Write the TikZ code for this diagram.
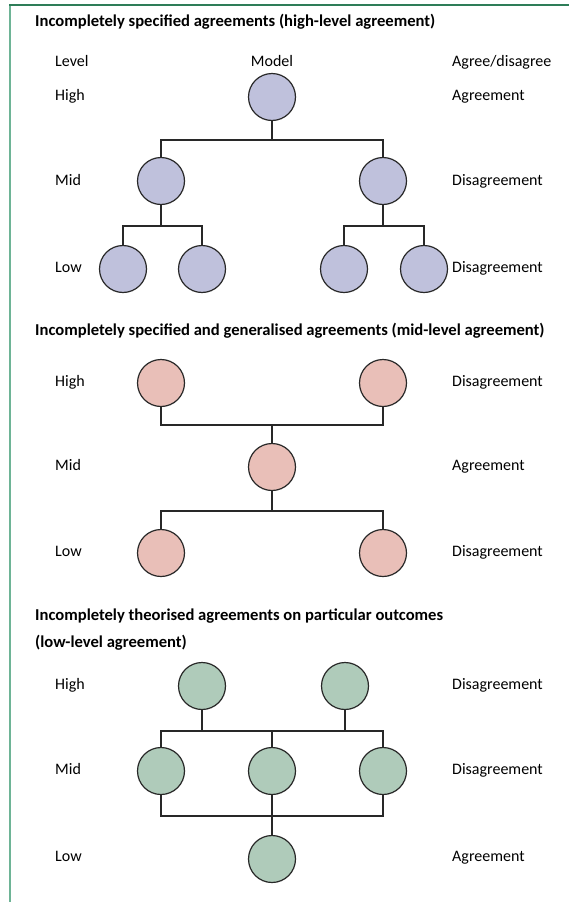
\documentclass[tikz,border=0pt]{standalone}
\usepackage{fontspec}
\setmainfont{Carlito}
\usetikzlibrary{positioning}
\definecolor{frametop}{RGB}{46,125,88}
\definecolor{frameleft}{RGB}{110,180,150}
\definecolor{modelblue}{RGB}{191,193,220}
\definecolor{modelpink}{RGB}{233,191,184}
\definecolor{modelgreen}{RGB}{175,203,186}
\definecolor{linegray}{RGB}{40,40,40}
\tikzset{
  model/.style={circle,draw=linegray,line width=1.2pt,minimum size=47pt,inner sep=0pt},
  link/.style={draw=linegray,line width=1.2pt},
  lbl/.style={anchor=base west,inner sep=0pt,font=\fontsize{16}{19}\selectfont},
  ttl/.style={anchor=base west,inner sep=0pt,font=\bfseries\fontsize{16.6}{20}\selectfont},
}
\begin{document}
\begin{tikzpicture}[x=1pt,y=-1pt]
\useasboundingbox (0,0) rectangle (569,902);
% frame
\draw[frameleft,line width=2pt] (10,5)--(10,902);
\draw[frametop,line width=2pt] (9,5)--(569,5);
% panel 1: high-level agreement
\node[ttl] (t1) at (35,26) {Incompletely specified agreements (high-level agreement)};
\node[lbl] (lvl) at (55,66) {Level};
\node[lbl,anchor=base] (mdl) at (272,66) {Model};
\node[lbl] (agd) at (452,66) {Agree/disagree};
\foreach \y/\lv/\ag [count=\i] in {100/High/Agreement,185/Mid/Disagreement,272/Low/Disagreement}{
  \node[lbl] (p1a\i) at (55,\y) {\lv};
  \node[lbl] (p1b\i) at (452,\y) {\ag};
}
\node[model,fill=modelblue] (p1h) at (272,97) {};
\node[model,fill=modelblue] (p1m1) at (161,181) {};
\node[model,fill=modelblue] (p1m2) at (383,181) {};
\foreach \x [count=\i] in {123,202,344,424}{
  \node[model,fill=modelblue] (p1l\i) at (\x,269) {};
}
\coordinate (p1j) at (272,140);
\coordinate (p1k1) at (161,226);
\coordinate (p1k2) at (383,226);
\draw[link] (p1h)--(p1j);
\draw[link] (p1m1) |- (p1j) -| (p1m2);
\draw[link] (p1m1)--(p1k1);
\draw[link] (p1m2)--(p1k2);
\draw[link] (p1l1) |- (p1k1) -| (p1l2);
\draw[link] (p1l3) |- (p1k2) -| (p1l4);
% panel 2: mid-level agreement
\node[ttl] (t2) at (35,335) {Incompletely specified and generalised agreements (mid-level agreement)};
\foreach \y/\lv/\ag [count=\i] in {386/High/Disagreement,470/Mid/Agreement,556/Low/Disagreement}{
  \node[lbl] (p2a\i) at (55,\y) {\lv};
  \node[lbl] (p2b\i) at (452,\y) {\ag};
}
\node[model,fill=modelpink] (p2h1) at (161,383) {};
\node[model,fill=modelpink] (p2h2) at (383,383) {};
\node[model,fill=modelpink] (p2m) at (272,467) {};
\node[model,fill=modelpink] (p2l1) at (161,553) {};
\node[model,fill=modelpink] (p2l2) at (383,553) {};
\coordinate (p2j) at (272,425);
\coordinate (p2k) at (272,511);
\draw[link] (p2h1) |- (p2j) -| (p2h2);
\draw[link] (p2j)--(p2m);
\draw[link] (p2m)--(p2k);
\draw[link] (p2l1) |- (p2k) -| (p2l2);
% panel 3: low-level agreement
\node[ttl] (t3a) at (35,620) {Incompletely theorised agreements on particular outcomes};
\node[ttl] (t3b) at (35,647) {(low-level agreement)};
\foreach \y/\lv/\ag [count=\i] in {689/High/Disagreement,774/Mid/Disagreement,861/Low/Agreement}{
  \node[lbl] (p3a\i) at (55,\y) {\lv};
  \node[lbl] (p3b\i) at (452,\y) {\ag};
}
\node[model,fill=modelgreen] (p3h1) at (202,686) {};
\node[model,fill=modelgreen] (p3h2) at (345,686) {};
\foreach \x [count=\i] in {161,272,383}{
  \node[model,fill=modelgreen] (p3m\i) at (\x,771) {};
}
\node[model,fill=modelgreen] (p3l) at (272,859) {};
\coordinate (p3j) at (272,731);
\coordinate (p3k) at (272,816);
\draw[link] (p3h1)--(p3h1 |- p3j);
\draw[link] (p3h2)--(p3h2 |- p3j);
\draw[link] (p3m1) |- (p3j) -| (p3m3);
\draw[link,line width=2.4pt] (p3h1 |- p3j)--(p3h2 |- p3j);
\draw[link] (p3m2)--(p3j);
\draw[link] (p3m1) |- (p3k) -| (p3m3);
\draw[link] (p3m2)--(p3l);
\end{tikzpicture}
\end{document}
